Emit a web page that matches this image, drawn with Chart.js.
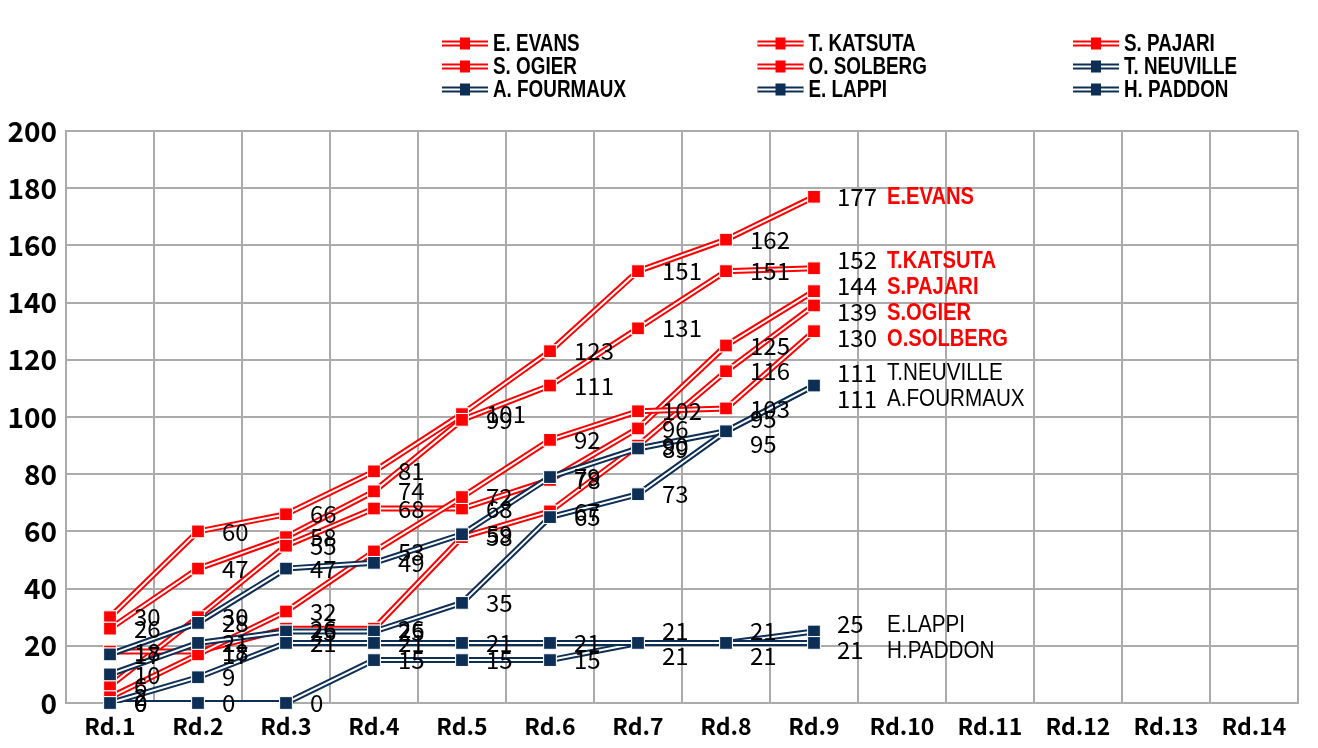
<!DOCTYPE html>
<html>
<head>
<meta charset="utf-8">
<script src="https://cdn.jsdelivr.net/npm/chart.js@4.4.1/dist/chart.umd.min.js"></script>
<style>
body{margin:0;background:#fff;}
</style>
</head>
<body>
<canvas id="myChart" width="1318" height="748"></canvas>
<script>

var myChart;

const rounds = ['Rd.1','Rd.2','Rd.3','Rd.4','Rd.5','Rd.6','Rd.7','Rd.8','Rd.9','Rd.10','Rd.11','Rd.12','Rd.13','Rd.14'];
const pilotos = ['E. EVANS','T. KATSUTA','S. PAJARI','S. OGIER','O. SOLBERG','T. NEUVILLE','A. FOURMAUX','E. LAPPI','H. PADDON'];

const evans    = [30, 60, 66, 81, 101, 123, 151, 162, 177];
const katsuta  = [26, 47, 58, 74, 99, 111, 131, 151, 152];
const pajari   = [6, 30, 55, 68, 68, 78, 96, 125, 144];
const ogier    = [18, 18, 26, 26, 58, 67, 90, 116, 139];
const solberg  = [2, 17, 32, 53, 72, 92, 102, 103, 130];
const neuville = [17, 28, 47, 49, 59, 79, 89, 95, 111];
const fourmaux = [10, 21, 25, 25, 35, 65, 73, 95, 111];
const lappi    = [0, 0, 0, 15, 15, 15, 21, 21, 25];
const paddon   = [0, 9, 21, 21, 21, 21, 21, 21, 21];

const puntos = [evans, katsuta, pajari, ogier, solberg, neuville, fourmaux, lappi, paddon];
const yTicks = [0, 20, 40, 60, 80, 100, 120, 140, 160, 180, 200];

const ROJO = '#ff0000';
const AZUL = '#0d2e55';
const colorDe = (i) => i < 5 ? ROJO : AZUL;

// texto comprimido a lo ancho (fuente estrecha)
const textoEstrecho = (ctx, txt, x, y, escala) => {
    ctx.save();
    ctx.translate(x, y);
    ctx.scale(escala, 1);
    ctx.fillText(txt, 0, 0);
    ctx.restore();
};

// linea doble: blanco por el centro y se vuelven a pintar los marcadores
const dobleLinea = {
    id: 'dobleLinea',
    afterDatasetDraw(chart, args) {
        const ctx = chart.ctx;
        const pts = args.meta.data.filter(p => !p.skip);
        ctx.save();
        ctx.beginPath();
        pts.forEach((p, i) => i ? ctx.lineTo(p.x, p.y) : ctx.moveTo(p.x, p.y));
        ctx.strokeStyle = '#fff';
        ctx.lineWidth = 2;
        ctx.stroke();
        ctx.restore();
        pts.forEach(p => p.draw(ctx, chart.chartArea));
    }
};

const repartir = (items, gap) => {
    items.sort((a, b) => a.y - b.y);
    let grupos = items.map(it => ({ items: [it] }));
    const arriba = g => {
        let m = g.items.reduce((s, it) => s + it.y, 0) / g.items.length;
        return m - (g.items.length - 1) * gap / 2;
    };
    let unido = true;
    while (unido) {
        unido = false;
        for (let i = 0; i < grupos.length - 1; i++) {
            let a = grupos[i], b = grupos[i + 1];
            if (arriba(a) + a.items.length * gap > arriba(b)) {
                a.items = a.items.concat(b.items);
                grupos.splice(i + 1, 1);
                unido = true;
                break;
            }
        }
    }
    grupos.forEach(g => {
        let t = arriba(g);
        g.items.forEach((it, k) => it.ly = t + k * gap);
    });
};

const etiquetas = {
    id: 'etiquetas',
    afterDatasetsDraw(chart) {
        const ctx = chart.ctx;
        const n = puntos[0].length;
        ctx.save();
        ctx.textBaseline = 'middle';
        ctx.textAlign = 'left';
        for (let r = 0; r < n; r++) {
            let items = [];
            chart.data.datasets.forEach((ds, i) => {
                const p = chart.getDatasetMeta(i).data[r];
                items.push({ i: i, v: ds.data[r], x: p.x, y: p.y, ly: p.y });
            });
            if (r < n - 1) {
                // valores repetidos uno encima del otro
                let vistos = {};
                items.forEach(it => { (vistos[it.v] = vistos[it.v] || []).push(it); });
                Object.values(vistos).forEach(g => {
                    if (g.length > 1 && g[0].v > 0) {
                        g.forEach((it, k) => it.ly = it.y + (k - (g.length - 1) / 2) * 25);
                    }
                });
                ctx.font = '24px "Noto Sans CJK JP"';
                ctx.fillStyle = '#000';
                items.forEach(it => ctx.fillText(String(it.v), it.x + 24, it.ly));
            } else {
                repartir(items, 26);
                items.forEach(it => {
                    ctx.font = '24px "Noto Sans CJK JP"';
                    ctx.fillStyle = '#000';
                    ctx.fillText(String(it.v), it.x + 23, it.ly);
                    const nombre = pilotos[it.i].replace(' ', '');
                    if (it.i < 5) {
                        ctx.font = 'bold 24px "Liberation Sans"';
                        ctx.fillStyle = ROJO;
                        textoEstrecho(ctx, nombre, it.x + 73, it.ly + 1, 0.84);
                    } else {
                        ctx.font = '24px "Liberation Sans"';
                        ctx.fillStyle = '#000';
                        textoEstrecho(ctx, nombre, it.x + 73, it.ly + 1, 0.86);
                    }
                });
            }
        }
        ctx.restore();
    }
};

// leyenda en 3 columnas
const leyenda = {
    id: 'leyenda',
    afterDraw(chart) {
        const ctx = chart.ctx;
        ctx.save();
        chart.data.datasets.forEach((ds, i) => {
            const x0 = 442 + (i % 3) * 315.5;
            const y = 43.5 + Math.floor(i / 3) * 23;
            ctx.beginPath();
            ctx.moveTo(x0, y);
            ctx.lineTo(x0 + 46, y);
            ctx.strokeStyle = ds.borderColor;
            ctx.lineWidth = 6;
            ctx.stroke();
            ctx.beginPath();
            ctx.moveTo(x0, y);
            ctx.lineTo(x0 + 46, y);
            ctx.strokeStyle = '#fff';
            ctx.lineWidth = 2;
            ctx.stroke();
            ctx.fillStyle = ds.borderColor;
            ctx.fillRect(x0 + 18, y - 6, 10, 12);
            ctx.font = 'bold 23px "Liberation Sans"';
            ctx.fillStyle = '#000';
            ctx.textBaseline = 'middle';
            textoEstrecho(ctx, ds.label, x0 + 51, y + 1, 0.82);
        });
        ctx.restore();
    }
};

window.addEventListener('DOMContentLoaded', (event) => {

    let datasets = puntos.map((d, i) => ({
        label: pilotos[i],
        data: d,
        borderColor: colorDe(i),
        backgroundColor: colorDe(i),
        borderWidth: 6,
        tension: 0,
        pointStyle: 'rect',
        pointRadius: 9,
        pointHoverRadius: 9,
        pointBorderColor: '#fff',
        pointBorderWidth: 1,
        pointBackgroundColor: colorDe(i),
        order: puntos.length - i
    }));

    let config = {
        type: 'line',
        data: { labels: rounds, datasets: datasets },
        options: {
            responsive: false,
            animation: false,
            layout: { padding: { top: 131, right: 20, left: 0, bottom: 0 } },
            plugins: {
                legend: { display: false },
                tooltip: { enabled: false }
            },
            scales: {
                x: {
                    offset: true,
                    grid: { offset: true, color: '#ababab', lineWidth: 2, drawTicks: false },
                    border: { color: '#ababab', width: 2 },
                    ticks: {
                        color: '#000',
                        padding: 9,
                        maxRotation: 0,
                        autoSkip: false,
                        font: { family: '"Noto Sans CJK JP"', size: 23, weight: 'bold' }
                    },
                    afterFit: (s) => { s.height = 45; }
                },
                y: {
                    min: 0,
                    max: 200,
                    afterBuildTicks: (s) => { s.ticks = yTicks.map(v => ({ value: v })); },
                    grid: { color: '#ababab', lineWidth: 2, drawTicks: false },
                    border: { color: '#ababab', width: 2 },
                    ticks: {
                        color: '#000',
                        padding: 9,
                        font: { family: '"Noto Sans CJK JP"', size: 28, weight: 'bold' }
                    },
                    afterFit: (s) => { s.width = 66; }
                }
            }
        },
        plugins: [dobleLinea, etiquetas, leyenda]
    };

    myChart = new Chart(document.getElementById('myChart'), config);
});
</script>
</body>
</html>
